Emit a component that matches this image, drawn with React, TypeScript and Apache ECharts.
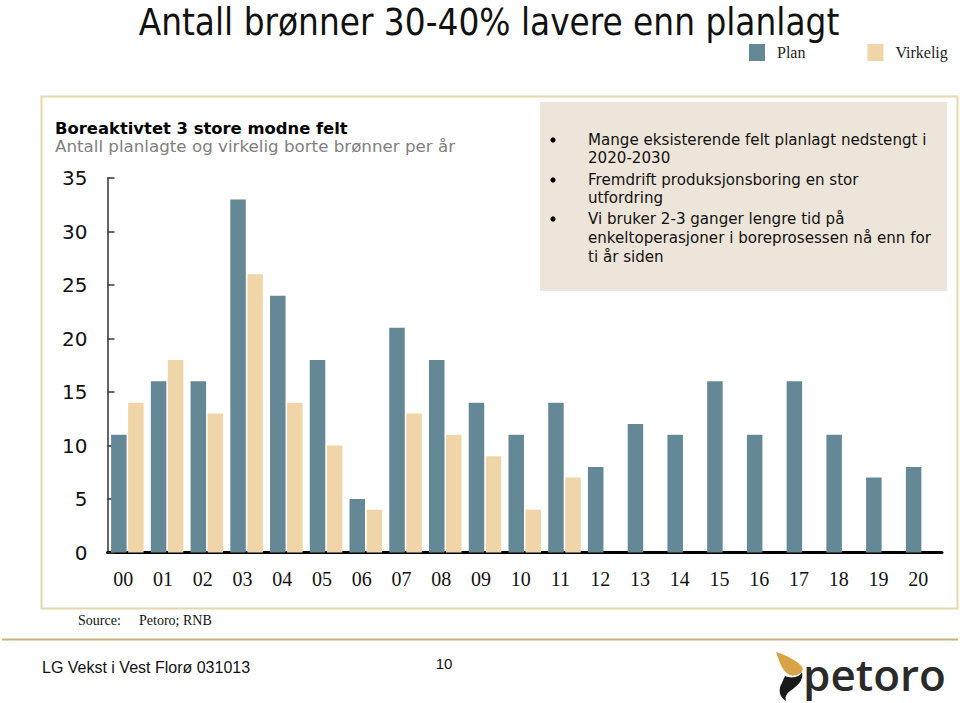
import React, { useEffect, useRef } from "react";
import * as echarts from "echarts";

const categories = ["00","01","02","03","04","05","06","07","08","09","10","11","12","13","14","15","16","17","18","19","20"];
const planValues = [11,16,16,33,24,18,5,21,18,14,11,14,8,12,11,16,11,16,11,7,8];
const virkeligValues: (number | null)[] = [14,18,13,26,14,10,4,13,11,9,4,7,null,null,null,null,null,null,null,null,null];
const seriesNames = ["Plan", "Virkelig"];
const yTicks = { min: 0, max: 35, interval: 5 };

const title = "Antall brønner 30-40% lavere enn planlagt";
const subtitleBold = "Boreaktivtet 3 store modne felt";
const subtitleGray = "Antall planlagte og virkelig borte brønner per år";
const bulletLines = [
  ["Mange eksisterende felt planlagt nedstengt i", "2020-2030"],
  ["Fremdrift produksjonsboring en stor", "utfordring"],
  ["Vi bruker 2-3 ganger lengre tid på", "enkeltoperasjoner i boreprosessen nå enn for", "ti år siden"],
];

const PLAN = "#658896";
const VIRK = "#efd5a7";
const SANS = "'DejaVu Sans', Verdana, sans-serif";
const SERIF = "'Liberation Serif', 'Times New Roman', serif";

let registered = false;
function registerShapes() {
  if (registered) return;
  registered = true;
  echarts.graphic.registerShape(
    "logoGold",
    echarts.graphic.extendPath(
      "M776,652 C786,655 798,661 802,667 C805,672 797,677 790,675 C783,672 780,664 776,652 Z",
      {}
    )
  );
  echarts.graphic.registerShape(
    "logoBlack",
    echarts.graphic.extendPath(
      "M785,676 C792,679 800,677 802,672 C804,681 796,687 790,691 C786,694 785,697 786,701 C779,697 778,689 782,683 C783,680 784,678 785,676 Z",
      {}
    )
  );
}

export default function App() {
  const ref = useRef<HTMLDivElement>(null);
  useEffect(() => {
    if (!ref.current) return;
    registerShapes();
    const chart = echarts.init(ref.current, undefined, { renderer: "svg" });

    const bulletGraphics: any[] = [];
    const lineYs = [[140, 158], [180, 198], [219, 238, 257]];
    bulletLines.forEach((group, gi) => {
      bulletGraphics.push({
        type: "circle",
        shape: { cx: 553, cy: lineYs[gi][0], r: 2.6 },
        style: { fill: "#000" },
      });
      group.forEach((line, li) => {
        bulletGraphics.push({
          type: "text",
          x: 588,
          y: lineYs[gi][li],
          style: {
            text: line,
            font: `15.1px ${SANS}`,
            fill: "#111",
            textVerticalAlign: "middle",
          },
        });
      });
    });

    chart.setOption({
      animation: false,
      backgroundColor: "#ffffff",
      legend: {
        data: seriesNames,
        left: 749,
        top: 44,
        itemWidth: 16,
        itemHeight: 17,
        itemGap: 62,
        icon: "rect",
        padding: 0,
        textStyle: { fontFamily: SERIF, fontSize: 16, color: "#222", padding: [0, 0, 0, 7] },
      },
      grid: { left: 107.5, right: 18, top: 178, bottom: 150.5, containLabel: false },
      xAxis: {
        type: "category",
        data: categories,
        boundaryGap: true,
        axisLine: { show: true, lineStyle: { color: "#000", width: 3 } },
        axisTick: { show: false },
        axisLabel: { fontFamily: SERIF, fontSize: 20, color: "#111", margin: 16, padding: [0, 8, 0, 0] },
        splitLine: { show: false },
      },
      yAxis: {
        type: "value",
        min: yTicks.min,
        max: yTicks.max,
        interval: yTicks.interval,
        axisLine: { show: true, lineStyle: { color: "#333", width: 1.5 } },
        axisTick: { show: true, inside: true, length: 7, lineStyle: { color: "#333", width: 1.5 } },
        axisLabel: { fontFamily: SANS, fontSize: 20, color: "#111", margin: 20 },
        splitLine: { show: false },
      },
      series: [
        {
          name: seriesNames[0],
          type: "bar",
          data: planValues,
          barWidth: 15.5,
          barGap: "10%",
          itemStyle: { color: PLAN },
        },
        {
          name: seriesNames[1],
          type: "bar",
          data: virkeligValues,
          barWidth: 15.5,
          barGap: "10%",
          itemStyle: { color: VIRK },
        },
      ],
      graphic: [
        {
          type: "text",
          x: 489,
          y: 22,
          style: {
            text: title,
            font: `36.5px 'DejaVu Sans Condensed', 'DejaVu Sans', sans-serif`,
            fill: "#111",
            textAlign: "center",
            textVerticalAlign: "middle",
          },
        },
        {
          type: "rect",
          shape: { x: 41.5, y: 96.5, width: 916, height: 512 },
          style: { fill: "none", stroke: "#e6d7ae", lineWidth: 2 },
          z: -1,
        },
        {
          type: "rect",
          shape: { x: 540, y: 102, width: 407, height: 189 },
          style: { fill: "#ede5d9" },
          z: -1,
        },
        ...bulletGraphics,
        {
          type: "text",
          x: 55,
          y: 128,
          style: { text: subtitleBold, font: `bold 16.4px ${SANS}`, fill: "#000", textVerticalAlign: "middle" },
        },
        {
          type: "text",
          x: 55,
          y: 146,
          style: { text: subtitleGray, font: `16.7px ${SANS}`, fill: "#7f7f7f", textVerticalAlign: "middle" },
        },
        {
          type: "text",
          x: 78,
          y: 620,
          style: { text: "Source:", font: `14px ${SERIF}`, fill: "#111", textVerticalAlign: "middle" },
        },
        {
          type: "text",
          x: 139,
          y: 620,
          style: { text: "Petoro; RNB", font: `14px ${SERIF}`, fill: "#111", textVerticalAlign: "middle" },
        },
        {
          type: "line",
          shape: { x1: 2, y1: 639.5, x2: 958, y2: 639.5 },
          style: { stroke: "#cbb27c", lineWidth: 2 },
        },
        {
          type: "text",
          x: 42,
          y: 667,
          style: { text: "LG Vekst i Vest Florø 031013", font: `16px 'Liberation Sans', Arial, sans-serif`, fill: "#111", textVerticalAlign: "middle" },
        },
        {
          type: "text",
          x: 444,
          y: 663,
          style: { text: "10", font: `15px 'Liberation Sans', Arial, sans-serif`, fill: "#111", textAlign: "center", textVerticalAlign: "middle" },
        },
        { type: "logoGold", x: 0, y: 0, style: { fill: "#d9a447" } },
        { type: "logoBlack", x: 0, y: 0, style: { fill: "#1a1a1a" } },
        {
          type: "text",
          x: 803,
          y: 674,
          style: { text: "petoro", font: `600 44px 'Open Sans', sans-serif`, fill: "#2a2a2a", textVerticalAlign: "middle" },
        },
      ],
    });
    return () => chart.dispose();
  }, []);
  return (
    <div
      ref={ref}
      style={{ position: "fixed", left: 0, top: 0, width: 960, height: 703, background: "#fff" }}
    />
  );
}
